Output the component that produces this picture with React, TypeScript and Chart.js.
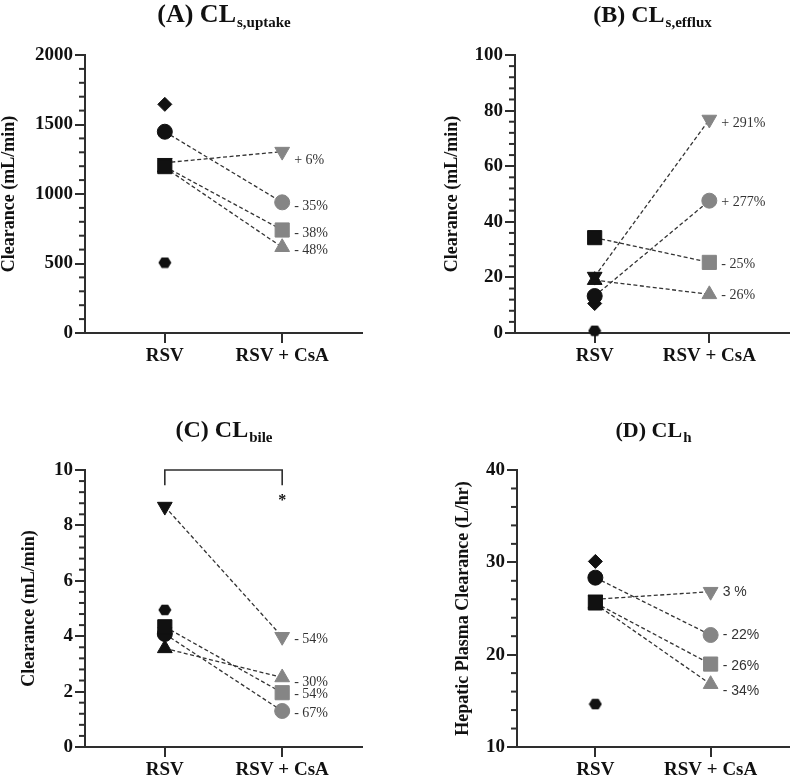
import React, { useEffect, useRef } from 'react';
import { Chart, registerables } from 'chart.js';

Chart.register(...registerables);

// ---------- data ----------
const GROUPS = ['RSV', 'RSV + CsA'];
// subject marker shapes (same order in every array below)
const MARKERS = ['circle', 'downTriangle', 'square', 'triangle', 'diamond', 'hexagon'];

const uptakeRSV = [1448, 1225, 1197, 1190, 1645, 506];
const uptakeCsA = [940, 1305, 741, 617, null, null];
const uptakeChange = ['- 35%', '+ 6%', '- 38%', '- 48%', null, null];

const effluxRSV = [13.3, 20.3, 34.3, 19.0, 10.6, 0.8];
const effluxCsA = [47.6, 76.8, 25.4, 13.9, null, null];
const effluxChange = ['+ 277%', '+ 291%', '- 25%', '- 26%', null, null];

const bileRSV = [4.08, 8.68, 4.34, 3.56, 4.3, 4.95];
const bileCsA = [1.3, 3.98, 1.96, 2.51, null, null];
const bileChange = ['- 67%', '- 54%', '- 54%', '- 30%', null, null];
const bileBracket = [10, 9.45];
const bileStar = 9.0;

const hepaticRSV = [28.34, 26.0, 25.6, 25.5, 30.1, 14.65];
const hepaticCsA = [22.13, 26.82, 18.98, 16.8, null, null];
const hepaticChange = ['- 22%', '3 %', '- 26%', '- 34%', null, null];

// y axis ranges: [min, max, major step, minor step]
const uptakeAxis = [0, 2000, 500, 100];
const effluxAxis = [0, 100, 20, 4];
const bileAxis = [0, 10, 2, 0.4];
const hepaticAxis = [10, 40, 10, 2];

// ---------- styling ----------
const SERIF = "'Liberation Serif', 'Times New Roman', Times, serif";
const SANS = "'Liberation Sans', Arial, Helvetica, sans-serif";
const AXIS = '#2e2e2e';
const BLACK = '#111111';
const GRAY = '#858585';
const W = 400;
const H = 391;

type PanelCfg = {
  key: string;
  title: string;
  sub: string;
  titleSize: number;
  yTitle: string;
  yTitleX: number;
  rsv: (number | null)[];
  csa: (number | null)[];
  change: (string | null)[];
  axis: number[];
  area: { left: number; right: number; top: number; bottom: number };
  xRange: [number, number];
  labelFont: string;
  labelDy: number[];
  bracket?: boolean;
};

const PANELS: PanelCfg[] = [
  {
    key: 'A', title: '(A) CL', sub: 's,uptake', titleSize: 26, yTitle: 'Clearance (mL/min)', yTitleX: 9,
    rsv: uptakeRSV, csa: uptakeCsA, change: uptakeChange, axis: uptakeAxis,
    area: { left: 85, right: 362, top: 55, bottom: 333 }, xRange: [-0.68, 1.68],
    labelFont: `14px ${SERIF}`, labelDy: [4, 9, 3, 3],
  },
  {
    key: 'B', title: '(B) CL', sub: 's,efflux', titleSize: 24, yTitle: 'Clearance (mL/min)', yTitleX: 52,
    rsv: effluxRSV, csa: effluxCsA, change: effluxChange, axis: effluxAxis,
    area: { left: 115, right: 397, top: 55, bottom: 333 }, xRange: [-0.695, 1.695],
    labelFont: `14px ${SERIF}`, labelDy: [2, 4, 2, 1],
  },
  {
    key: 'C', title: '(C) CL', sub: 'bile', titleSize: 24, yTitle: 'Clearance (mL/min)', yTitleX: 29,
    rsv: bileRSV, csa: bileCsA, change: bileChange, axis: bileAxis,
    area: { left: 85, right: 362, top: 79, bottom: 356 }, xRange: [-0.68, 1.68],
    labelFont: `14px ${SERIF}`, labelDy: [2, 3, 2, 5], bracket: true,
  },
  {
    key: 'D', title: '(D) CL', sub: 'h', titleSize: 22, yTitle: 'Hepatic Plasma Clearance (L/hr)', yTitleX: 63,
    rsv: hepaticRSV, csa: hepaticCsA, change: hepaticChange, axis: hepaticAxis,
    area: { left: 117, right: 397, top: 79, bottom: 356 }, xRange: [-0.68, 1.68],
    labelFont: `14px ${SANS}`, labelDy: [0, 0, 2, 7],
  },
];

const MARKER_SPECS: Record<string, { style: string; radius: number; rotation: number; order: number }> = {
  circle: { style: 'circle', radius: 7.5, rotation: 0, order: 2 },
  downTriangle: { style: 'triangle', radius: 8.5, rotation: 180, order: 4 },
  square: { style: 'rect', radius: 10, rotation: 0, order: 1 },
  triangle: { style: 'triangle', radius: 8.5, rotation: 0, order: 5 },
  diamond: { style: 'rectRot', radius: 7, rotation: 0, order: 3 },
  hexagon: { style: 'hexagon', radius: 7, rotation: 0, order: 3 },
};

function makeHexagon(): HTMLCanvasElement {
  const c = document.createElement('canvas');
  c.width = 14;
  c.height = 12;
  const g = c.getContext('2d')!;
  g.fillStyle = BLACK;
  g.beginPath();
  g.moveTo(0.5, 6);
  g.lineTo(3.8, 0.8);
  g.lineTo(10.2, 0.8);
  g.lineTo(13.5, 6);
  g.lineTo(10.2, 11.2);
  g.lineTo(3.8, 11.2);
  g.closePath();
  g.fill();
  return c;
}

function PanelChart({ cfg }: { cfg: PanelCfg }) {
  const ref = useRef<HTMLCanvasElement>(null);

  useEffect(() => {
    if (!ref.current) return;
    const hex = makeHexagon();
    const [yMin, yMax, major, minor] = cfg.axis;
    const datasets: any[] = [];

    cfg.rsv.forEach((v, i) => {
      if (v == null) return;
      const spec = MARKER_SPECS[MARKERS[i]];
      const c = cfg.csa[i];
      const pts: { x: number; y: number }[] = [{ x: 0, y: v }];
      if (c != null) pts.push({ x: 1, y: c });
      if (c != null) {
        datasets.push({
          data: pts,
          showLine: true,
          pointRadius: 0,
          borderColor: '#333333',
          borderWidth: 1.3,
          borderDash: [4, 2.5],
          order: 20,
          clip: false,
        });
      }
      datasets.push({
        data: pts,
        showLine: false,
        pointStyle: spec.style === 'hexagon' ? hex : spec.style,
        pointRadius: spec.radius,
        pointRotation: spec.rotation,
        pointBackgroundColor: [BLACK, GRAY],
        pointBorderColor: [BLACK, GRAY],
        pointBorderWidth: 1,
        order: spec.order,
        clip: false,
      });
    });

    const deco = {
      id: 'deco' + cfg.key,
      afterDraw(chart: any) {
        const ctx: CanvasRenderingContext2D = chart.ctx;
        const { left, right, top, bottom } = chart.chartArea;
        const xs = chart.scales.x;
        const ys = chart.scales.y;
        ctx.save();
        // minor ticks
        ctx.setLineDash([]);
        ctx.strokeStyle = AXIS;
        ctx.lineWidth = 2;
        const n = Math.round((yMax - yMin) / minor);
        const per = Math.round(major / minor);
        for (let k = 0; k <= n; k++) {
          if (k % per === 0) continue;
          const y = ys.getPixelForValue(yMin + k * minor);
          ctx.beginPath();
          ctx.moveTo(left - 6, y);
          ctx.lineTo(left, y);
          ctx.stroke();
        }
        // title
        ctx.fillStyle = BLACK;
        ctx.textBaseline = 'alphabetic';
        ctx.font = `bold ${cfg.titleSize}px ${SERIF}`;
        const w1 = ctx.measureText(cfg.title).width;
        const subFont = `bold 15px ${SERIF}`;
        ctx.font = subFont;
        const w2 = ctx.measureText(cfg.sub).width;
        const cx = (left + right) / 2;
        const x0 = cx - (w1 + w2) / 2;
        const by = top - 33;
        ctx.font = `bold ${cfg.titleSize}px ${SERIF}`;
        ctx.textAlign = 'left';
        ctx.fillText(cfg.title, x0, by);
        ctx.font = subFont;
        ctx.fillText(cfg.sub, x0 + w1 + 1, by + 5);
        // y title
        ctx.save();
        ctx.translate(cfg.yTitleX, (top + bottom) / 2);
        ctx.rotate(-Math.PI / 2);
        ctx.textAlign = 'center';
        ctx.textBaseline = 'middle';
        ctx.font = `bold 18px ${SERIF}`;
        ctx.fillText(cfg.yTitle, 0, 0);
        ctx.restore();
        // change labels
        ctx.font = cfg.labelFont;
        ctx.fillStyle = '#333333';
        ctx.textAlign = 'left';
        ctx.textBaseline = 'middle';
        cfg.change.forEach((t, i) => {
          const c = cfg.csa[i];
          if (!t || c == null) return;
          ctx.fillText(t, xs.getPixelForValue(1) + 12, ys.getPixelForValue(c) + (cfg.labelDy[i] || 0));
        });
        // significance bracket
        if (cfg.bracket) {
          const xa = xs.getPixelForValue(0);
          const xb = xs.getPixelForValue(1);
          const yt = ys.getPixelForValue(bileBracket[0]);
          const yl = ys.getPixelForValue(bileBracket[1]);
          ctx.strokeStyle = AXIS;
          ctx.lineWidth = 1.6;
          ctx.beginPath();
          ctx.moveTo(xa, yl);
          ctx.lineTo(xa, yt);
          ctx.lineTo(xb, yt);
          ctx.lineTo(xb, yl);
          ctx.stroke();
          ctx.fillStyle = BLACK;
          ctx.font = `bold 16px ${SERIF}`;
          ctx.textAlign = 'center';
          ctx.textBaseline = 'middle';
          ctx.fillText('*', xb, ys.getPixelForValue(bileStar) + 3);
        }
        ctx.restore();
      },
    };

    const tickFont = { family: SERIF, size: 19, weight: 'bold' as const };

    const chart = new Chart(ref.current, {
      type: 'scatter',
      data: { datasets },
      options: {
        animation: false,
        responsive: false,
        devicePixelRatio: 1,
        events: [],
        layout: { padding: { left: 0, top: cfg.area.top, right: W - cfg.area.right, bottom: 0 } },
        plugins: { legend: { display: false }, tooltip: { enabled: false }, title: { display: false } },
        scales: {
          x: {
            type: 'linear',
            min: cfg.xRange[0],
            max: cfg.xRange[1],
            afterBuildTicks: (s: any) => {
              s.ticks = [{ value: 0 }, { value: 1 }];
            },
            afterFit: (s: any) => {
              s.height = H - cfg.area.bottom;
            },
            ticks: {
              callback: (v: any) => GROUPS[Math.round(Number(v))] ?? '',
              font: tickFont,
              color: BLACK,
              padding: 2,
              maxRotation: 0,
              autoSkip: false,
            },
            grid: { drawOnChartArea: false, drawTicks: true, tickLength: 10, color: AXIS, lineWidth: 2 },
            border: { display: true, color: AXIS, width: 2 },
          },
          y: {
            type: 'linear',
            min: yMin,
            max: yMax,
            afterFit: (s: any) => {
              s.width = cfg.area.left;
            },
            ticks: {
              stepSize: major,
              font: tickFont,
              color: BLACK,
              padding: 2,
              callback: (v: any) => String(Math.round(Number(v) * 100) / 100),
            },
            grid: { drawOnChartArea: false, drawTicks: true, tickLength: 10, color: AXIS, lineWidth: 2 },
            border: { display: true, color: AXIS, width: 2 },
          },
        },
      } as any,
      plugins: [deco],
    });
    return () => chart.destroy();
  }, [cfg]);

  return <canvas ref={ref} width={W} height={H} style={{ display: 'block', width: W, height: H }} />;
}

export default function App() {
  return (
    <div
      style={{
        position: 'absolute',
        left: 0,
        top: 0,
        width: 800,
        height: 782,
        background: '#ffffff',
        display: 'grid',
        gridTemplateColumns: '400px 400px',
        gridTemplateRows: '391px 391px',
      }}
    >
      {PANELS.map((p) => (
        <PanelChart key={p.key} cfg={p} />
      ))}
    </div>
  );
}
